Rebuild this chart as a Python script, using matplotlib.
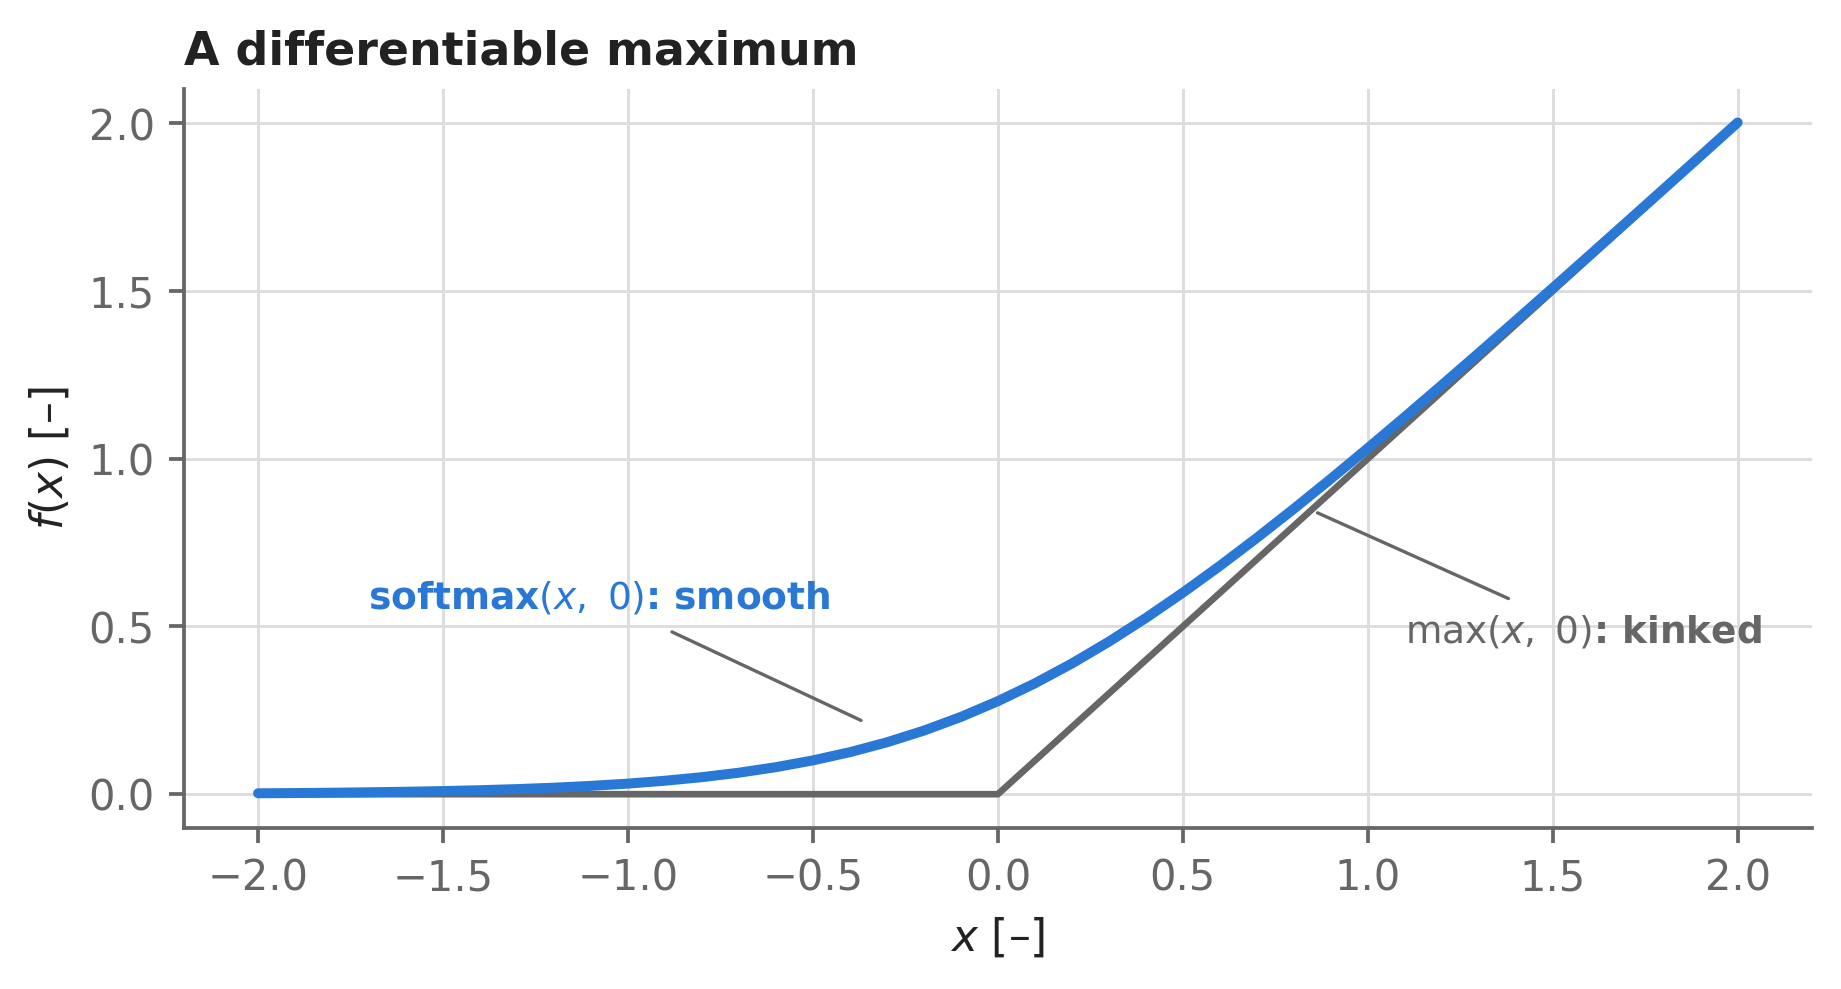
import matplotlib.pyplot as plt

# data
x_soft = [-2.0, -1.9, -1.8, -1.7, -1.6, -1.5, -1.4, -1.3, -1.2, -1.1, -1.0,
          -0.9, -0.8, -0.7, -0.6, -0.5, -0.4, -0.3, -0.2, -0.1, 0.0,
          0.1, 0.2, 0.3, 0.4, 0.5, 0.6, 0.7, 0.8, 0.9, 1.0,
          1.1, 1.2, 1.3, 1.4, 1.5, 1.6, 1.7, 1.8, 1.9, 2.0]
y_soft = [0.0027, 0.0034, 0.0044, 0.0057, 0.0073, 0.0093, 0.0119, 0.0152, 0.0194, 0.0248, 0.0316,
          0.0401, 0.0508, 0.0641, 0.0806, 0.1008, 0.1253, 0.1547, 0.1896, 0.2304, 0.2773,
          0.3304, 0.3896, 0.4547, 0.5253, 0.6008, 0.6806, 0.7641, 0.8508, 0.9401, 1.0316,
          1.1248, 1.2194, 1.3152, 1.4119, 1.5093, 1.6073, 1.7057, 1.8044, 1.9034, 2.0027]
x_max = [-2.0, 0.0, 2.0]
y_max = [0.0, 0.0, 2.0]

blue = '#2a78d6'
gray = '#666666'

fig = plt.figure(figsize=(6.137, 3.297), dpi=300)
ax = fig.add_axes([0.1, 0.163, 0.884, 0.747])

ax.plot(x_max, y_max, color=gray, lw=1.6, solid_capstyle='round', zorder=3)
ax.plot(x_soft, y_soft, color=blue, lw=2.4, solid_capstyle='round', zorder=4)

ax.grid(True, color='#dddddd', lw=0.7)
ax.set_axisbelow(True)
for s in ['top', 'right']:
    ax.spines[s].set_visible(False)
for s in ['left', 'bottom']:
    ax.spines[s].set_color(gray)
    ax.spines[s].set_linewidth(0.9)
ax.tick_params(colors=gray, labelsize=10, length=3.5, width=0.9)
ax.set_xticks([-2.0, -1.5, -1.0, -0.5, 0.0, 0.5, 1.0, 1.5, 2.0])
ax.set_yticks([0.0, 0.5, 1.0, 1.5, 2.0])

ax.set_xlabel(r'$x$ [–]', fontsize=10.5, color='#222222')
ax.set_ylabel(r'$f(x)$ [–]', fontsize=10.5, color='#222222')
ax.set_title('A differentiable maximum', loc='left', fontsize=11,
             fontweight='bold', color='#222222', pad=6)

ax.annotate(r'softmax$(x,\ 0)$: smooth', xy=(-0.37, 0.22), xytext=(-1.077, 0.585),
            ha='center', va='center', fontsize=9, fontweight='bold', color=blue,
            arrowprops=dict(arrowstyle='-', color=gray, lw=0.8, shrinkA=4, shrinkB=0))
ax.annotate(r'$\max(x,\ 0)$: kinked', xy=(0.864, 0.839), xytext=(1.583, 0.483),
            ha='center', va='center', fontsize=9, fontweight='bold', color=gray,
            arrowprops=dict(arrowstyle='-', color=gray, lw=0.8, shrinkA=4, shrinkB=0))

fig.savefig('out.png', dpi=300)
